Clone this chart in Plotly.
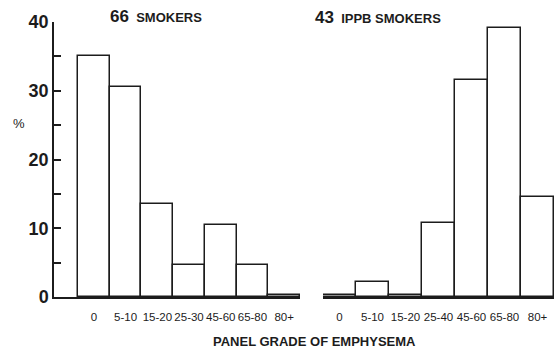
import plotly.graph_objects as go

# Panel grade of emphysema, percentage of cases per grade
grades_smokers = ["0", "5-10", "15-20", "25-30", "45-60", "65-80", "80+"]
pct_smokers = [35.0, 30.6, 13.6, 4.6, 10.5, 4.6, 0.3]

grades_ippb = ["0", "5-10", "15-20", "25-40", "45-60", "65-80", "80+"]
pct_ippb = [0.3, 2.2, 0.3, 10.8, 31.6, 39.2, 14.6]

y_ticks = [0, 10, 20, 30, 40]

W, H = 554, 356
ML, MR, MT, MB = 0, 0, 22, 59
INK = "#1c1c1c"
FONT = "Liberation Sans, Arial, Helvetica, sans-serif"


def px_x(p):
    return p / W


def px_y(p):
    return (H - MB - p) / (H - MT - MB)


bar_style = dict(marker=dict(color="white", line=dict(color=INK, width=1.5)),
                 width=1.0, showlegend=False, hoverinfo="x+y")

fig = go.Figure()
fig.add_trace(go.Bar(x=grades_smokers, y=pct_smokers, xaxis="x", yaxis="y", **bar_style))
fig.add_trace(go.Bar(x=grades_ippb, y=pct_ippb, xaxis="x2", yaxis="y", **bar_style))

xcommon = dict(type="category", showline=True, linecolor=INK, linewidth=2,
               ticks="", showgrid=False, zeroline=False, anchor="y",
               tickangle=0,
               tickfont=dict(family=FONT, size=11.5, color=INK),
               ticklabelstandoff=8)

fig.update_layout(
    width=W, height=H,
    margin=dict(l=ML, r=MR, t=MT, b=MB),
    paper_bgcolor="white", plot_bgcolor="white",
    bargap=0,
    xaxis=dict(domain=[px_x(54), px_x(300)], range=[-1.26, 6.5], **xcommon),
    xaxis2=dict(domain=[px_x(323), 1.0], range=[-0.5, 6.5], **xcommon),
    yaxis=dict(range=[0, 40], tickvals=y_ticks, ticks="inside", ticklen=7,
               tickwidth=1.5, tickcolor=INK, showline=True, linecolor=INK,
               linewidth=1.5, showgrid=False, zeroline=False, anchor="x",
               tickfont=dict(family=FONT, size=18, color=INK, weight="bold"),
               minor=dict(dtick=5, ticks="inside", ticklen=7, tickwidth=1.5,
                          tickcolor=INK, showgrid=False)),
    font=dict(family=FONT, color=INK),
)

annotations = [
    dict(text="%", x=px_x(19), y=px_y(123), font=dict(size=13)),
    dict(text="<span style='font-size:17px'>66</span>  SMOKERS",
         x=px_x(156), y=px_y(16), font=dict(size=13, weight="bold")),
    dict(text="<span style='font-size:17px'>43</span>  IPPB SMOKERS",
         x=px_x(378), y=px_y(17), font=dict(size=13, weight="bold")),
    dict(text="PANEL GRADE OF EMPHYSEMA", x=px_x(314), y=px_y(341),
         font=dict(size=13, weight="bold")),
]
for a in annotations:
    fig.add_annotation(xref="paper", yref="paper", showarrow=False,
                       xanchor="center", yanchor="middle", **a)

fig.write_html("out.html")
